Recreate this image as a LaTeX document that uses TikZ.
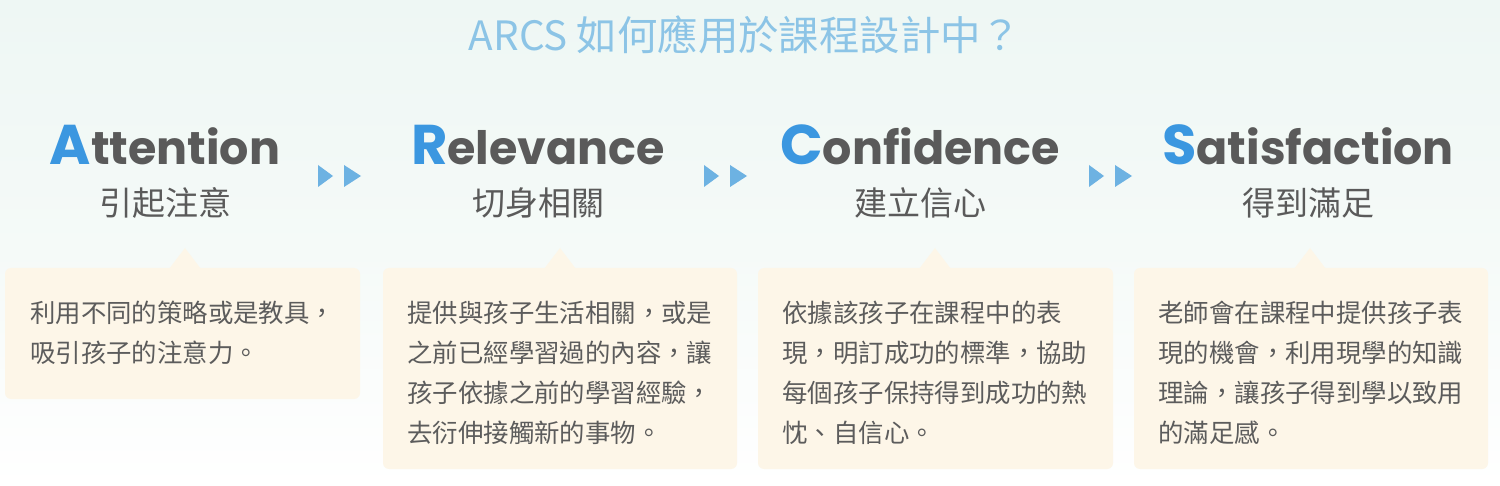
\documentclass[tikz,border=0pt]{standalone}
\usepackage{fontspec}
\newfontfamily\cjk{Noto Sans CJK TC}
\newfontfamily\pop{Poppins}
\definecolor{bgtop}{HTML}{EEF7F4}
\definecolor{bgmid}{HTML}{F5FAF8}
\definecolor{bgbot}{HTML}{FFFFFF}
\definecolor{titlec}{HTML}{8CC4E6}
\definecolor{headc}{HTML}{5A5A5A}
\definecolor{initc}{HTML}{3B97E0}
\definecolor{arrowc}{HTML}{6DB2E2}
\definecolor{boxc}{HTML}{FDF6E8}
\definecolor{textc}{HTML}{5C5C5C}
\begin{document}
\begin{tikzpicture}[x=0.5pt,y=-0.5pt,
  titlestyle/.style={font=\cjk\fontsize{20.2}{20}\selectfont, text=titlec, inner sep=0pt},
  headstyle/.style={font=\pop\bfseries\fontsize{23}{23}\selectfont, text=headc, inner sep=0pt, anchor=base},
  substyle/.style={font=\cjk\fontsize{16.5}{16.5}\selectfont, text=headc, inner sep=0pt},
  bodystyle/.style={font=\cjk\fontsize{12.7}{20}\selectfont, text=textc, inner sep=0pt, anchor=north west, align=left},
  boxstyle/.style={fill=boxc, rounded corners=3pt},
  tabstyle/.style={fill=boxc},
  arrowstyle/.style={fill=arrowc}
]
\newcommand{\ini}[1]{{\color{initc}\fontsize{28}{28}\selectfont #1}}
% background
\useasboundingbox (0,0) rectangle (1500,486);
\shade[top color=bgtop, bottom color=bgmid] (0,0) rectangle (1500,250);
\shade[top color=bgmid, bottom color=bgbot] (0,250) rectangle (1500,486);

% title
\node[titlestyle] (title) at (745,35) {ARCS 如何應用於課程設計中？};

% headings
\node[headstyle] (hA) at (165,165) {\ini{A}ttention};
\node[headstyle] (hR) at (538,165) {\ini{R}elevance};
\node[headstyle] (hC) at (920,165) {\ini{C}onfidence};
\node[headstyle] (hS) at (1308,165) {\ini{S}atisfaction};

\node[substyle] (sA) at (165,203) {引起注意};
\node[substyle] (sR) at (538,203) {切身相關};
\node[substyle] (sC) at (920,203) {建立信心};
\node[substyle] (sS) at (1308,203) {得到滿足};

% double arrows
\foreach \cx/\nm in {341/a1, 727/a2, 1112/a3}{
  \coordinate (\nm) at (\cx,176);
  \fill[arrowstyle] ([xshift=-11.5pt,yshift=5.5pt]\nm) -- ([xshift=-4pt,yshift=0pt]\nm) -- ([xshift=-11.5pt,yshift=-5.5pt]\nm) -- cycle;
  \fill[arrowstyle] ([xshift=1.5pt,yshift=5.5pt]\nm) -- ([xshift=10pt,yshift=0pt]\nm) -- ([xshift=1.5pt,yshift=-5.5pt]\nm) -- cycle;
}

% boxes
\fill[boxstyle] (5,268) rectangle (360,399);
\fill[boxstyle] (383,268) rectangle (737,469);
\fill[boxstyle] (758,268) rectangle (1113,469);
\fill[boxstyle] (1134,268) rectangle (1488,469);
\foreach \tx in {185,560,935,1310}{
  \fill[tabstyle] (\tx-16,269) -- (\tx,248) -- (\tx+16,269) -- cycle;
}

% body texts
\node[bodystyle] (tA) at (30,301) {利用不同的策略或是教具，\\吸引孩子的注意力。};
\node[bodystyle] (tR) at (407,301) {提供與孩子生活相關，或是\\之前已經學習過的內容，讓\\孩子依據之前的學習經驗，\\去衍伸接觸新的事物。};
\node[bodystyle] (tC) at (782,301) {依據該孩子在課程中的表\\現，明訂成功的標準，協助\\每個孩子保持得到成功的熱\\忱、自信心。};
\node[bodystyle] (tS) at (1158,301) {老師會在課程中提供孩子表\\現的機會，利用現學的知識\\理論，讓孩子得到學以致用\\的滿足感。};
\end{tikzpicture}
\end{document}
